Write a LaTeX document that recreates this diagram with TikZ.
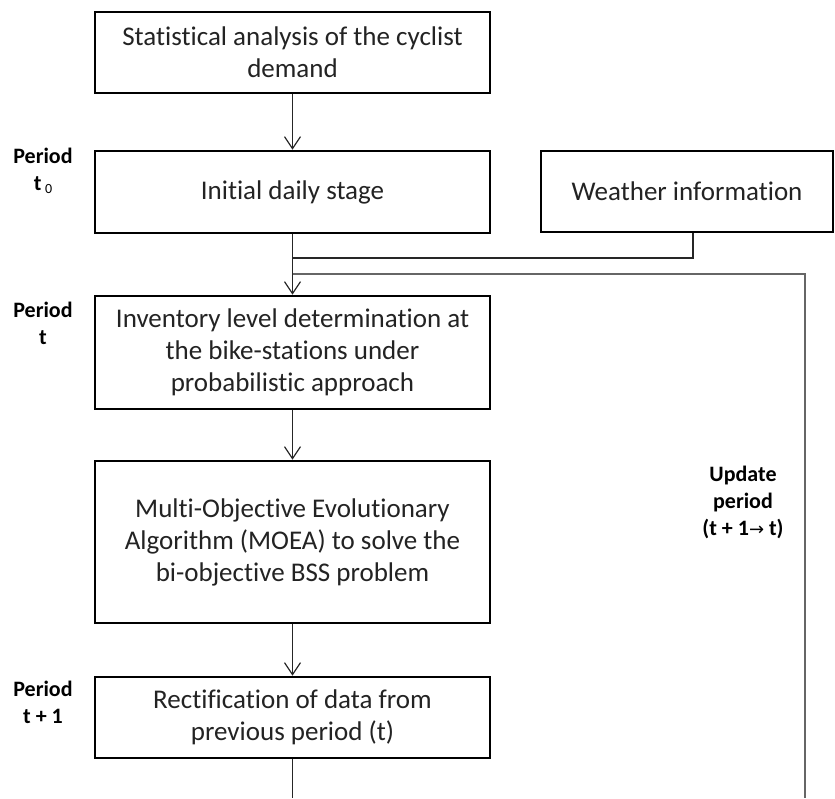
\documentclass[tikz,border=0pt]{standalone}
\usepackage{fontspec}
\setmainfont{Carlito}[Ligatures={NoCommon}]
\newfontfamily\arrowfont{DejaVu Sans}
\usetikzlibrary{arrows.meta}
\definecolor{txt}{RGB}{35,35,35}
\begin{document}
\begin{tikzpicture}[x=1pt,y=-1pt,
  box/.style={draw=black, line width=2.6pt, fill=white, inner sep=0pt, align=center,
    font=\fontsize{27}{32}\selectfont, text=txt, minimum width=395pt},
  conn/.style={draw=black!85, line width=1.2pt},
  arr/.style={conn, -{Straight Barb[length=12pt,width=16pt]}},
  loopline/.style={draw=black!60, line width=2pt},
  lbl/.style={font=\bfseries\fontsize{22}{27}\selectfont, align=center, text=black}]
\useasboundingbox (0,0) rectangle (835,798);

% boxes
\node[box, minimum height=81pt] (b1) at (292.5,52.5) {Statistical analysis of the cyclist\\demand};
\node[box, minimum height=82pt] (b2) at (292.5,192) {Initial daily stage};
\node[box, minimum height=81pt, minimum width=292pt] (w) at (687,191.5) {Weather information};
\node[box, minimum height=113pt] (b3) at (292.5,352.5) {Inventory level determination at\\the bike-stations under\\probabilistic approach};
\node[box, minimum height=162pt] (b4) at (292.5,542) {Multi-Objective Evolutionary\\Algorithm (MOEA) to solve the\\bi-objective BSS problem};
\node[box, minimum height=81pt] (b5) at (292.5,717.5) {Rectification of data from\\previous period (t)};

% labels
\node[lbl] (p0) at (43,171) {Period\\t\,\raisebox{-3pt}{\mdseries\fontsize{14}{14}\selectfont 0}};
\node[lbl] (pt) at (43,323) {Period\\t};
\node[lbl] (pt1) at (43,702) {Period\\t + 1};
\node[lbl] (upd) at (743,502) {Update\\period\\(t + 1{\mdseries\arrowfont\fontsize{18}{18}\selectfont→} t)};

% connectors
\coordinate (wj) at (693,258);
\coordinate (lp) at (805,274);
\coordinate (lb) at (805,798);
\coordinate (sb) at (292.5,798);

\draw[arr] (b1.south) -- (b2.north);
\draw[arr] (b2.south) -- (b3.north);
\draw[conn] (w.south -| wj) -- (wj) -- (wj -| b2.south);
\draw[loopline] (lp -| b2.south) -- (lp) -- (lb);
\draw[arr] (b3.south) -- (b4.north);
\draw[arr] (b4.south) -- (b5.north);
\draw[conn] (b5.south) -- (sb);
\end{tikzpicture}
\end{document}
